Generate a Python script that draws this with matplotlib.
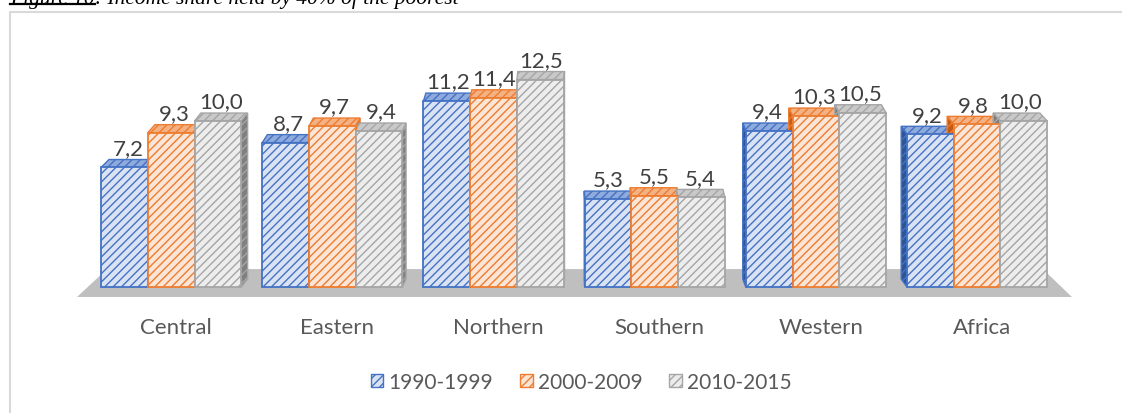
import matplotlib.pyplot as plt
from matplotlib.patches import Polygon, Patch, Rectangle
from matplotlib.lines import Line2D

# income share held by the poorest 40%, by region and period
regions = ['Central', 'Eastern', 'Northern', 'Southern', 'Western', 'Africa']
periods = ['1990-1999', '2000-2009', '2010-2015']
share_1990s = [7.2, 8.7, 11.2, 5.3, 9.4, 9.2]
share_2000s = [9.3, 9.7, 11.4, 5.5, 10.3, 9.8]
share_2010s = [10.0, 9.4, 12.5, 5.4, 10.5, 10.0]
series = [share_1990s, share_2000s, share_2010s]

front_colors = ['#dae3f3', '#fbe5d6', '#ededed']   # light face under the hatch
line_colors = ['#4472c4', '#ed7d31', '#a5a5a5']    # edge + hatch lines
top_colors = ['#8faadc', '#f4b183', '#c9c9c9']
side_colors = ['#2f5597', '#c55a11', '#7f7f7f']

plt.rcParams['font.family'] = ['Lato', 'DejaVu Sans']
plt.rcParams['hatch.linewidth'] = 1.0

fig = plt.figure(figsize=(11.22, 4.14), dpi=100)
ax = fig.add_axes([0, 0, 1, 1])
ax.set_xlim(-1.092, 5.869)
ax.set_ylim(-7.59, 17.35)
ax.axis('off')

width = 0.29
depth_y = 0.48      # how far the back of a bar sits above the front
vanish_x = 2.57     # bars lean towards this x, like a perspective view

# grey floor under the bars
ax.add_patch(Polygon([(-0.614, -0.6), (5.558, -0.6), (5.378, 1.08), (-0.428, 1.08)],
                     closed=True, facecolor='#bfbfbf', edgecolor='none', zorder=1))

for j, vals in enumerate(series):
    xs = [i + (j - 1) * width - 0.03 for i in range(len(regions))]
    ax.bar(xs, vals, width, color=front_colors[j], edgecolor=line_colors[j],
           hatch='////', linewidth=1.3, zorder=3)
    for xc, v in zip(xs, vals):
        x0, x1 = xc - width / 2, xc + width / 2
        dx = 0.017 * (vanish_x - xc)
        top = [(x0, v), (x1, v), (x1 + dx, v + depth_y), (x0 + dx, v + depth_y)]
        ax.add_patch(Polygon(top, closed=True, facecolor=top_colors[j],
                             edgecolor=line_colors[j], hatch='////', lw=1.0, zorder=2))
        xe = x1 if dx > 0 else x0
        side = [(xe, 0), (xe, v), (xe + dx, v + depth_y), (xe + dx, depth_y)]
        ax.add_patch(Polygon(side, closed=True, facecolor=side_colors[j],
                             edgecolor=line_colors[j], hatch='////', lw=1.0, zorder=2))
        ax.text(xc + dx / 2, v + depth_y + 0.1, f'{v:.1f}'.replace('.', ','),
                ha='center', va='bottom', fontsize=16, color='#404040', zorder=5)

for i, name in enumerate(regions):
    ax.text(i, -2.41, name, ha='center', va='center', fontsize=16, color='#595959')

handles = [Patch(facecolor=front_colors[j], edgecolor=line_colors[j], hatch='////')
           for j in range(3)]
fig.legend(handles, periods, loc='center', bbox_to_anchor=(0.518, 0.075), ncol=3,
           frameon=False, fontsize=15, handlelength=0.6, handleheight=0.6,
           columnspacing=1.3, handletextpad=0.25, labelcolor='#595959')

# chart frame
fig.add_artist(Rectangle((10 / 1122, -0.05), 1.1, 1 - 13 / 414 + 0.05,
                         transform=fig.transFigure, fill=False,
                         edgecolor='#d9d9d9', linewidth=1.5))

# caption above the frame
base_y = 1 - 4 / 414
renderer = fig.canvas.get_renderer()
t1 = fig.text(10 / 1122, base_y, 'Figure 10', style='italic', family='Liberation Serif',
              fontsize=15.5, va='baseline', color='black')
bb = t1.get_window_extent(renderer)
fig.text(bb.x1 / 1122, base_y, ': Income share held by 40% of the poorest', style='italic',
         family='Liberation Serif', fontsize=15.5, va='baseline', color='black')
fig.add_artist(Line2D([bb.x0 / 1122, bb.x1 / 1122], [1 - 5 / 414, 1 - 5 / 414],
                      transform=fig.transFigure, color='black', linewidth=1.6))

fig.savefig('out.png', dpi=100)
